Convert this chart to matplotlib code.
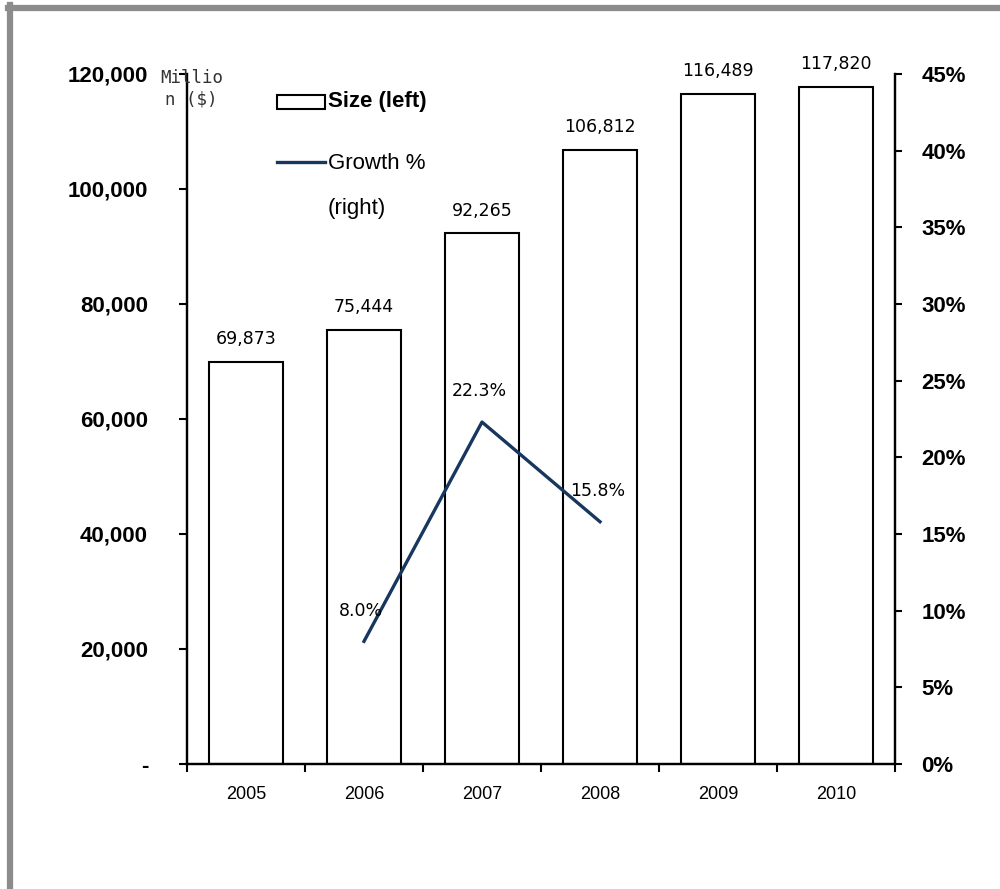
import matplotlib
matplotlib.use('Agg')
import matplotlib.pyplot as plt
from matplotlib.ticker import FuncFormatter, FixedLocator
from matplotlib.patches import Rectangle
from matplotlib.lines import Line2D

years = ['2005', '2006', '2007', '2008', '2009', '2010']
size = [69873, 75444, 92265, 106812, 116489, 117820]
growth_years = ['2006', '2007', '2008']
growth = [8.0, 22.3, 15.8]

NAVY = '#17375E'
plt.rcParams['font.family'] = ['Liberation Sans', 'DejaVu Sans']

fig = plt.figure(figsize=(10, 8.89), dpi=100)
ax = fig.add_axes([0.187, 0.1406, 0.708, 0.7762])
ax2 = ax.twinx()

x = list(range(len(years)))
ax.bar(x, size, width=0.62, color='white', edgecolor='black', linewidth=1.5, zorder=2)
for xi, v in zip(x, size):
    ax.annotate(f'{v:,}', (xi, v), xytext=(0, 10), textcoords='offset points',
                ha='center', va='bottom', fontsize=12.5, family='DejaVu Sans')

gx = [years.index(y) for y in growth_years]
ax2.plot(gx, growth, color=NAVY, linewidth=2.4, zorder=3)
for xi, g in zip(gx, growth):
    ax2.annotate(f'{g:.1f}%', (xi, g), xytext=(-2, 22), textcoords='offset points',
                 ha='center', va='center', fontsize=12.5, family='DejaVu Sans')

ax.set_xlim(-0.5, len(years) - 0.5)
ax.set_ylim(0, 120000)
ax2.set_ylim(0, 45)

ax.set_yticks(range(0, 120001, 20000))
ax.yaxis.set_major_formatter(FuncFormatter(lambda v, p: '-' if v == 0 else f'{int(v):,}'))
ax2.set_yticks(range(0, 46, 5))
ax2.yaxis.set_major_formatter(FuncFormatter(lambda v, p: f'{int(v)}%'))

ax.xaxis.set_major_locator(FixedLocator([i - 0.5 for i in range(len(years) + 1)]))
ax.xaxis.set_minor_locator(FixedLocator(x))
ax.set_xticklabels([], minor=False)
ax.set_xticklabels(years, minor=True)
ax.tick_params(axis='x', which='major', direction='out', length=6, width=1.5)
ax.tick_params(axis='x', which='minor', length=0, pad=16, labelsize=13)
ax.tick_params(axis='y', direction='out', length=6, width=1.5, pad=22, labelsize=16)
ax2.tick_params(axis='y', direction='out', length=5, width=1.5, pad=14, labelsize=16)
for lbl in ax.get_yticklabels() + ax2.get_yticklabels():
    lbl.set_fontweight('bold')

for a in (ax, ax2):
    a.spines['top'].set_visible(False)
    for s in ('left', 'right', 'bottom'):
        a.spines[s].set_linewidth(1.6)

# legend drawn by hand to match the original layout
ax.add_patch(Rectangle((0.127, 0.949), 0.068, 0.021, transform=ax.transAxes,
                       facecolor='white', edgecolor='black', linewidth=1.5, clip_on=False))
ax.text(0.199, 0.9595, 'Size (left)', transform=ax.transAxes, va='center',
        fontsize=16, fontweight='bold')
ax.add_line(Line2D([0.127, 0.195], [0.8727, 0.8727], transform=ax.transAxes,
                   color=NAVY, linewidth=2.4, clip_on=False))
ax.text(0.199, 0.870, 'Growth %', transform=ax.transAxes, va='center', fontsize=16)
ax.text(0.199, 0.805, '(right)', transform=ax.transAxes, va='center', fontsize=16)

fig.text(0.1915, 1 - 89 / 889, 'Millio\nn ($)', ha='center', va='center',
         multialignment='center', family='DejaVu Sans Mono', fontsize=12.5,
         color='#333333', linespacing=1.25)

# gray frame on top and left
fig.add_artist(Line2D([0.008, 1.0], [1 - 8 / 889, 1 - 8 / 889], color='#8c8c8c',
                      linewidth=4.5, transform=fig.transFigure))
fig.add_artist(Line2D([0.010, 0.010], [0, 1 - 5 / 889], color='#8c8c8c',
                      linewidth=4.5, transform=fig.transFigure))

fig.savefig('out.png', dpi=100, facecolor='white')
